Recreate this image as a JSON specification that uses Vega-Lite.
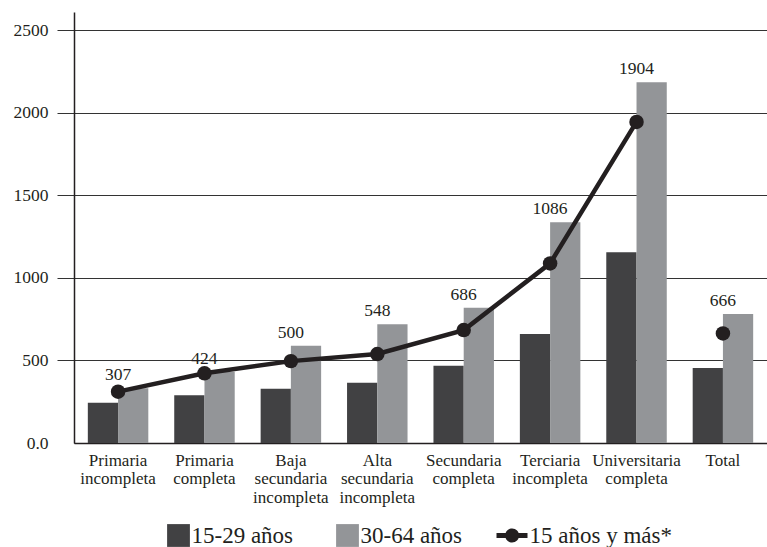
{
  "$schema": "https://vega.github.io/schema/vega-lite/v6.json",
  "width": 693,
  "height": 431,
  "autosize": {"type": "none"},
  "padding": {"left": 74, "top": 12, "right": 0, "bottom": 104},
  "background": "white",
  "config": {
    "font": "Times New Roman",
    "view": {"stroke": null}
  },
  "datasets": {
    "barras": [
      {"categoria": "Primaria incompleta", "grupo": "15-29 años", "valor": 244},
      {"categoria": "Primaria incompleta", "grupo": "30-64 años", "valor": 331},
      {"categoria": "Primaria completa", "grupo": "15-29 años", "valor": 290},
      {"categoria": "Primaria completa", "grupo": "30-64 años", "valor": 432},
      {"categoria": "Baja secundaria incompleta", "grupo": "15-29 años", "valor": 329},
      {"categoria": "Baja secundaria incompleta", "grupo": "30-64 años", "valor": 589},
      {"categoria": "Alta secundaria incompleta", "grupo": "15-29 años", "valor": 365},
      {"categoria": "Alta secundaria incompleta", "grupo": "30-64 años", "valor": 720},
      {"categoria": "Secundaria completa", "grupo": "15-29 años", "valor": 468},
      {"categoria": "Secundaria completa", "grupo": "30-64 años", "valor": 819},
      {"categoria": "Terciaria incompleta", "grupo": "15-29 años", "valor": 660},
      {"categoria": "Terciaria incompleta", "grupo": "30-64 años", "valor": 1338},
      {"categoria": "Universitaria completa", "grupo": "15-29 años", "valor": 1156},
      {"categoria": "Universitaria completa", "grupo": "30-64 años", "valor": 2185},
      {"categoria": "Total", "grupo": "15-29 años", "valor": 454},
      {"categoria": "Total", "grupo": "30-64 años", "valor": 781}
    ],
    "linea": [
      {"categoria": "Primaria incompleta", "valor": 311, "etiqueta": "307"},
      {"categoria": "Primaria completa", "valor": 422, "etiqueta": "424"},
      {"categoria": "Baja secundaria incompleta", "valor": 496, "etiqueta": "500"},
      {"categoria": "Alta secundaria incompleta", "valor": 539, "etiqueta": "548"},
      {"categoria": "Secundaria completa", "valor": 684, "etiqueta": "686"},
      {"categoria": "Terciaria incompleta", "valor": 1088, "etiqueta": "1086"},
      {"categoria": "Universitaria completa", "valor": 1945, "etiqueta": "1904"},
      {"categoria": "Total", "valor": 664, "etiqueta": "666"}
    ]
  },
  "layer": [
    {
      "data": {"name": "barras"},
      "mark": {"type": "bar"},
      "encoding": {
        "x": {
          "field": "categoria", "type": "nominal", "sort": null,
          "scale": {"paddingInner": 0.3, "paddingOuter": 0.16},
          "axis": {
            "title": null, "labelAngle": 0, "ticks": false,
            "domainColor": "#231f20", "domainWidth": 1.5,
            "labelFont": "Times New Roman", "labelFontSize": 17, "labelColor": "#231f20",
            "labelPadding": 9, "labelBaseline": "top", "labelLineHeight": 18.5,
            "labelExpr": "split(datum.label, ' ')", "labelOverlap": false, "labelLimit": 0
          }
        },
        "xOffset": {"field": "grupo", "type": "nominal", "sort": ["15-29 años", "30-64 años"]},
        "y": {
          "field": "valor", "type": "quantitative",
          "scale": {"domain": [0, 2611], "nice": false, "zero": true},
          "axis": {
            "title": null, "values": [0, 500, 1000, 1500, 2000, 2500],
            "labelExpr": "datum.value === 0 ? '0.0' : datum.value",
            "domainColor": "#231f20", "domainWidth": 1.5,
            "grid": true, "gridColor": "#333333", "gridWidth": 1,
            "tickSize": 17, "tickColor": "#333333", "tickWidth": 1,
            "tickOpacity": {"condition": {"test": "datum.value === 0", "value": 0}, "value": 1},
            "labelFont": "Times New Roman", "labelFontSize": 17.5, "labelColor": "#231f20",
            "labelPadding": 9
          }
        },
        "color": {
          "field": "grupo", "type": "nominal",
          "scale": {"domain": ["15-29 años", "30-64 años", "15 años y más*"], "range": ["#414143", "#939598", "#231f20"]},
          "legend": {
            "orient": "none", "legendX": 84.5, "legendY": 503.5,
            "direction": "horizontal", "title": null,
            "labelFont": "Times New Roman", "labelFontSize": 23, "labelColor": "#231f20",
            "symbolSize": 1600, "symbolStrokeWidth": 0, "symbolOpacity": 1,
            "labelOffset": -7, "columnPadding": 34,
            "encode": {
              "symbols": {
                "update": {
                  "shape": {"signal": "datum.value === '15 años y más*' ? 'M-1,-0.12H0.55V0.12H-1Z M-0.57,0A0.35,0.35 0 1,1 0.13,0A0.35,0.35 0 1,1 -0.57,0Z' : 'M-0.57,-0.57H0.57V0.57H-0.57Z'"},
                  "fill": {"scale": "color", "field": "value"},
                  "strokeWidth": {"value": 0},
                  "opacity": {"value": 1}
                }
              }
            }
          }
        }
      }
    },
    {
      "data": {"name": "linea"},
      "transform": [{"filter": "datum.categoria !== 'Total'"}],
      "mark": {"type": "line", "strokeWidth": 4.5},
      "encoding": {
        "x": {"field": "categoria", "type": "nominal", "sort": null},
        "y": {"field": "valor", "type": "quantitative"},
        "color": {"datum": "15 años y más*"}
      }
    },
    {
      "data": {"name": "linea"},
      "mark": {"type": "point", "filled": true, "size": 210, "opacity": 1, "shape": "circle"},
      "encoding": {
        "x": {"field": "categoria", "type": "nominal", "sort": null},
        "y": {"field": "valor", "type": "quantitative"},
        "color": {"datum": "15 años y más*"}
      }
    },
    {
      "data": {"name": "barras"},
      "transform": [
        {"filter": "datum.grupo === '30-64 años'"},
        {"lookup": "categoria", "from": {"data": {"name": "linea"}, "key": "categoria", "fields": ["etiqueta"]}}
      ],
      "mark": {"type": "text", "baseline": "alphabetic", "dy": -8, "fontSize": 17.5, "font": "Times New Roman", "color": "#231f20"},
      "encoding": {
        "x": {"field": "categoria", "type": "nominal", "sort": null},
        "y": {"field": "valor", "type": "quantitative"},
        "text": {"field": "etiqueta"}
      }
    }
  ]
}
